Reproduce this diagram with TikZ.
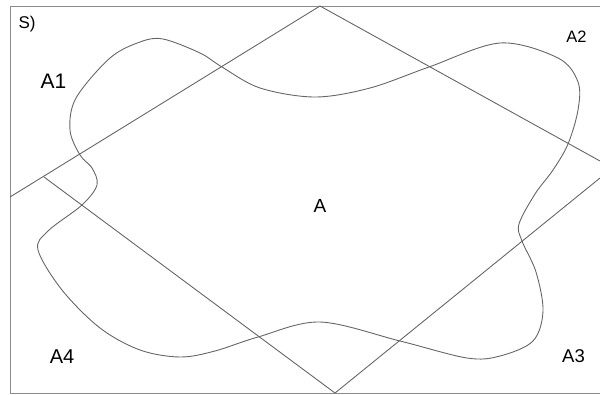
\documentclass[tikz,border=0pt]{standalone}
\usepackage{fontspec}
\setmainfont{Liberation Sans}
\begin{document}
\begin{tikzpicture}[x=1pt,y=-1pt,
  ln/.style={draw=black!60, line width=0.9pt},
  frm/.style={draw=black!45, line width=1pt},
  curve/.style={draw=black!60, line width=0.9pt},
  lbl/.style={inner sep=0pt, anchor=base}]
\useasboundingbox (0,0) rectangle (600,394);
\draw[frm] (605,6) -- (10,6) -- (10,393) -- (605,393);
\coordinate (T) at (320,6);
\coordinate (B) at (335,393);
\coordinate (L) at (10,197);
\coordinate (Lm) at (44,177);
\coordinate (R1) at (600,161);
\coordinate (R2) at (600,178);
\draw[ln] (L) -- (T) -- (R1);
\draw[ln] (Lm) -- (B) -- (R2);
\draw[curve] plot[smooth cycle, tension=0.55] coordinates {
 (163,39) (200,53) (222,67) (260,88) (315,97) (370,88) (429,67) (500,43)
 (558,58) (578,82) (578,110) (568,144) (553,170) (535,194) (519,224) (522,241)
 (536,272) (543,311) (533,341) (500,356) (467,358) (400,341) (320,322)
 (258,337) (215,351) (180,357) (140,350) (100,328) (62,290) (38,250) (48,231) (82,205)
 (97,185) (92,168) (80,155) (70,130) (76,98) (110,58) (140,42)};
\node[lbl, font=\fontsize{17}{17}\selectfont] (s) at (27,28) {S)};
\node[lbl, font=\fontsize{21}{21}\selectfont] (a1) at (53.5,88) {A1};
\node[lbl, font=\fontsize{16.5}{16.5}\selectfont] (a2) at (576.5,42) {A2};
\node[lbl, font=\fontsize{18.5}{18.5}\selectfont] (a3) at (573.5,362) {A3};
\node[lbl, font=\fontsize{20}{20}\selectfont] (a4) at (62,363) {A4};
\node[lbl, font=\fontsize{19}{19}\selectfont] (a) at (320,212) {A};
\end{tikzpicture}
\end{document}
